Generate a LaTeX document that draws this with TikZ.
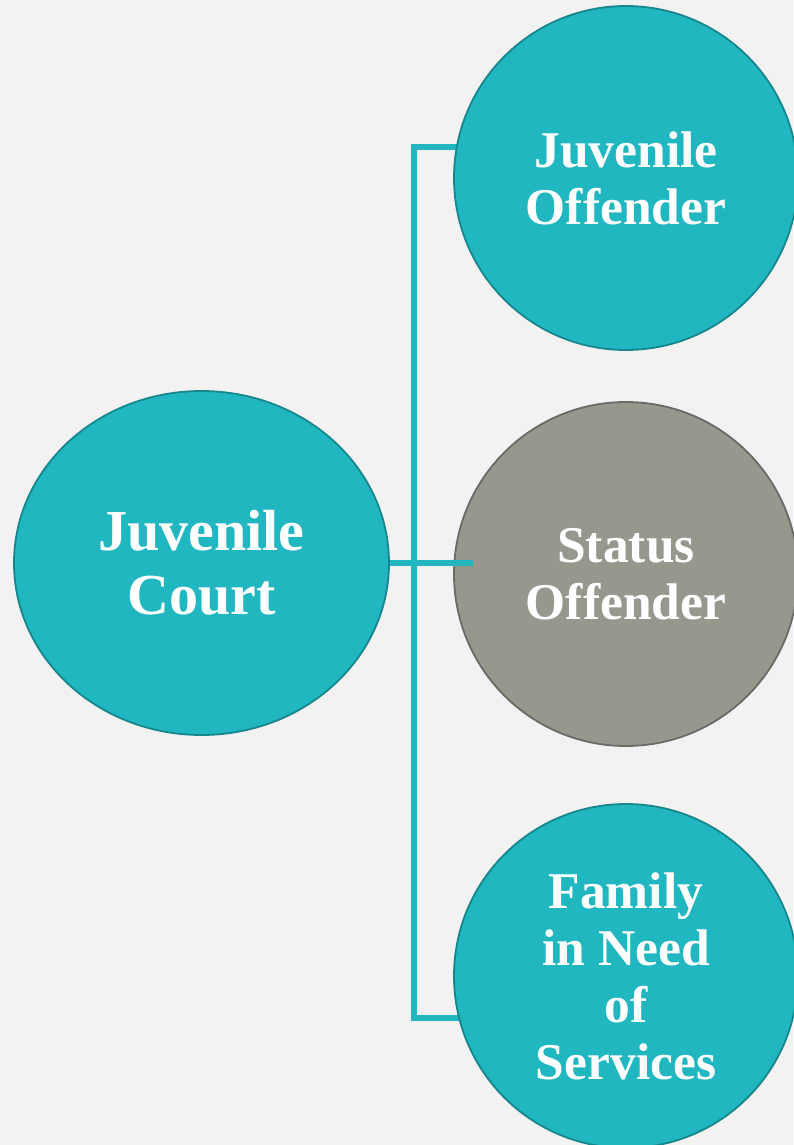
\documentclass[tikz,border=0pt]{standalone}
\usepackage{fontspec}
\usetikzlibrary{shapes.geometric}
\setmainfont{Liberation Serif}
\definecolor{bg}{HTML}{F2F2F2}
\definecolor{teal}{HTML}{20B7C0}
\definecolor{tealedge}{HTML}{17868D}
\definecolor{grayfill}{HTML}{97978E}
\definecolor{grayedge}{HTML}{6A6A66}
\begin{document}
\begin{tikzpicture}[x=1pt,y=-1pt,
  bubble/.style={circle,draw=tealedge,fill=teal,line width=1.8pt,minimum size=344pt,inner sep=0pt,
    text=white,font=\bfseries\fontsize{51.5}{57}\selectfont,align=center},
  graybubble/.style={bubble,draw=grayedge,fill=grayfill},
  link/.style={draw=teal,line width=6pt}]
\fill[bg] (0,0) rectangle (793,1145);
\useasboundingbox (0,0) rectangle (793,1145);
\coordinate (vtop) at (414,147);
\coordinate (vbot) at (414,1018);
\coordinate (vmid) at (414,563);
\coordinate (hend) at (473,563);
\coordinate (ttop) at (470,147);
\coordinate (tbot) at (470,1018);
\node[ellipse,draw=tealedge,fill=teal,line width=1.8pt,minimum width=375pt,minimum height=344pt,inner sep=0pt,
  text=white,font=\bfseries\fontsize{58}{64}\selectfont,align=center] (court) at (201.5,563) {Juvenile\\Court};
\draw[link] (court.east) -- (vmid);
\draw[link,line cap=rect] (ttop) -- (vtop) -- (vbot) -- (tbot);
\node[bubble] (jo) at (626,178) {Juvenile\\Offender};
\node[graybubble] (so) at (626,574) {Status\\Offender};
\node[bubble] (fn) at (626,976) {Family\\in Need\\of\\Services};
\draw[link] (vmid) -- (hend);
\end{tikzpicture}
\end{document}
